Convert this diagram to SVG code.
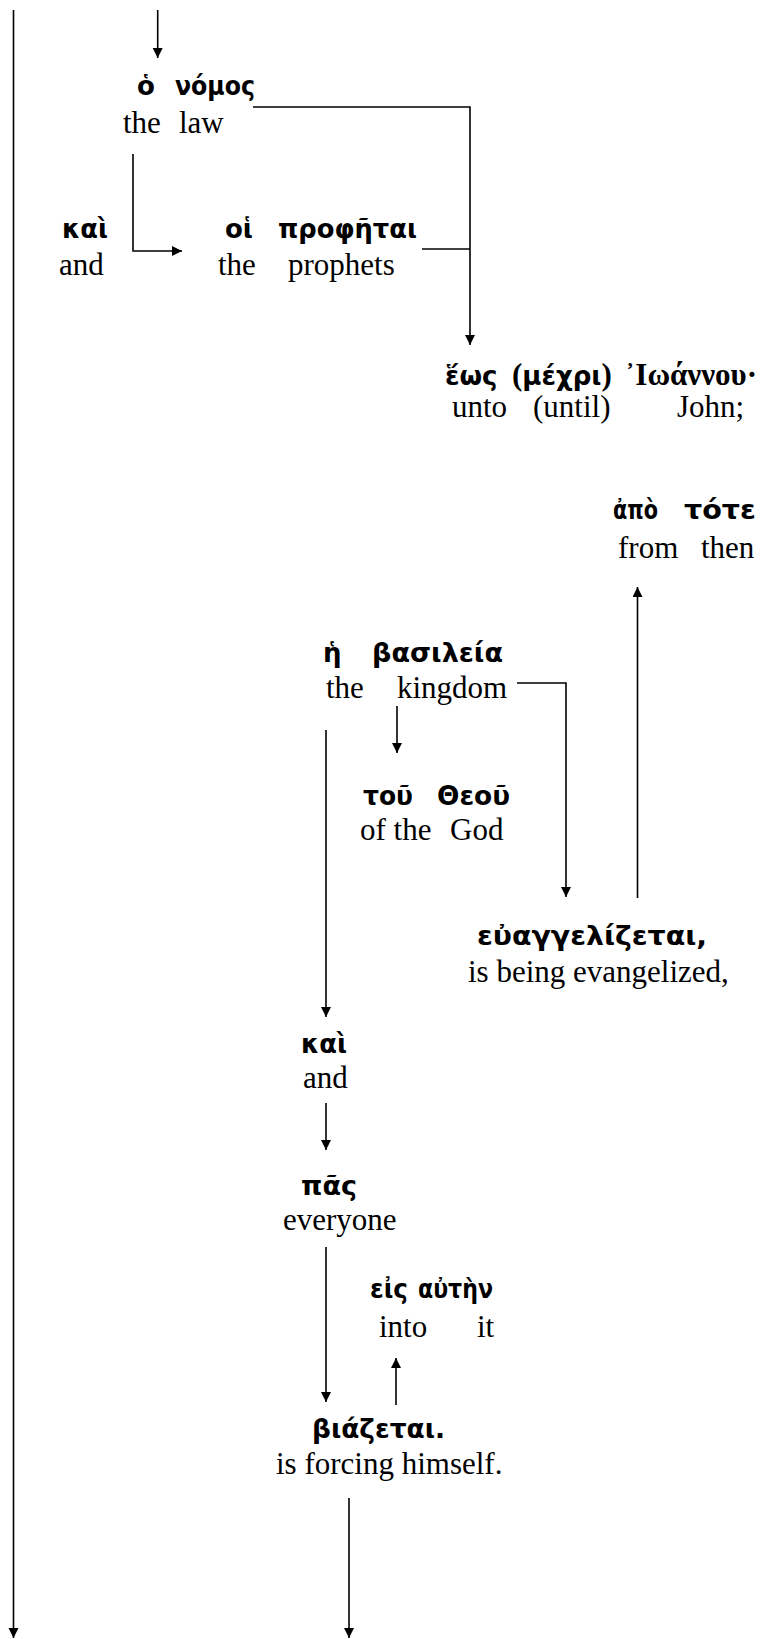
<svg xmlns="http://www.w3.org/2000/svg" width="773" height="1639" viewBox="0 0 773 1639">
<style>
.gr{font-family:"DejaVu Sans",sans-serif;font-weight:bold;font-size:26px;fill:#000}
.grs{font-family:"Liberation Serif","DejaVu Serif",serif;font-weight:bold;font-size:31px;fill:#000}
.en{font-family:"Liberation Serif",serif;font-size:31px;fill:#000}
.c{fill:none;stroke:#000;stroke-width:1.6}
</style>
<defs>
<marker id="ah" markerUnits="userSpaceOnUse" markerWidth="11" markerHeight="11" refX="10" refY="5" orient="auto">
<path d="M0,0 L10,5 L0,10 z" fill="#000"/>
</marker>
</defs>
<rect width="773" height="1639" fill="#fff"/>
<g id="connectors">
<path class="c" d="M157.7,10 V58" marker-end="url(#ah)"/>
<path class="c" d="M13.5,10 V1638" marker-end="url(#ah)"/>
<path class="c" d="M253,107 H470 V345" marker-end="url(#ah)"/>
<path class="c" d="M133,154 V251 H182" marker-end="url(#ah)"/>
<path class="c" d="M422,249 H470"/>
<path class="c" d="M637.5,898 V587" marker-end="url(#ah)"/>
<path class="c" d="M517,683 H566 V897" marker-end="url(#ah)"/>
<path class="c" d="M397,706 V753" marker-end="url(#ah)"/>
<path class="c" d="M326,730 V1017" marker-end="url(#ah)"/>
<path class="c" d="M326,1103 V1150" marker-end="url(#ah)"/>
<path class="c" d="M326,1247 V1402" marker-end="url(#ah)"/>
<path class="c" d="M396,1405 V1358" marker-end="url(#ah)"/>
<path class="c" d="M349,1498 V1638" marker-end="url(#ah)"/>
</g>
<g id="n-nomos">
<text class="gr" y="95"><tspan x="137">ὁ</tspan><tspan x="175" textLength="80" lengthAdjust="spacingAndGlyphs">νόμος</tspan></text>
<text class="en" y="133"><tspan x="123">the</tspan><tspan x="179">law</tspan></text>
</g>
<g id="n-kai1">
<text class="gr" x="62" y="238" textLength="46" lengthAdjust="spacingAndGlyphs">καὶ</text>
<text class="en" x="59" y="275">and</text>
</g>
<g id="n-prophetai">
<text class="gr" y="238"><tspan x="225">οἱ</tspan><tspan x="278" textLength="139" lengthAdjust="spacingAndGlyphs">προφῆται</tspan></text>
<text class="en" y="275"><tspan x="218">the</tspan><tspan x="288">prophets</tspan></text>
</g>
<g id="n-heos">
<text y="385"><tspan class="gr" x="445">ἕως</tspan><tspan class="grs" x="512">(</tspan><tspan class="gr">μέχρι</tspan><tspan class="grs">)</tspan><tspan class="grs" x="625">᾿Ιωάννου·</tspan></text>
<text class="en" y="417"><tspan x="452">unto</tspan><tspan x="533">(until)</tspan><tspan x="677">John;</tspan></text>
</g>
<g id="n-apo">
<text class="gr" y="519"><tspan x="613" textLength="45" lengthAdjust="spacingAndGlyphs">ἀπὸ</tspan><tspan x="684" textLength="72" lengthAdjust="spacingAndGlyphs">τότε</tspan></text>
<text class="en" y="558"><tspan x="618">from</tspan><tspan x="701">then</tspan></text>
</g>
<g id="n-basileia">
<text class="gr" y="662"><tspan x="323">ἡ</tspan><tspan x="372" textLength="131" lengthAdjust="spacingAndGlyphs">βασιλεία</tspan></text>
<text class="en" y="698"><tspan x="326">the</tspan><tspan x="397">kingdom</tspan></text>
</g>
<g id="n-theou">
<text class="gr" y="805"><tspan x="363" textLength="50" lengthAdjust="spacingAndGlyphs">τοῦ</tspan><tspan x="437" textLength="73" lengthAdjust="spacingAndGlyphs">Θεοῦ</tspan></text>
<text class="en" y="840"><tspan x="360">of the</tspan><tspan x="450">God</tspan></text>
</g>
<g id="n-euangelizetai">
<text class="gr" x="477" y="945" textLength="230" lengthAdjust="spacingAndGlyphs">εὐαγγελίζεται,</text>
<text class="en" x="468" y="982">is being evangelized,</text>
</g>
<g id="n-kai2">
<text class="gr" x="301" y="1053" textLength="46" lengthAdjust="spacingAndGlyphs">καὶ</text>
<text class="en" x="303" y="1088">and</text>
</g>
<g id="n-pas">
<text class="gr" x="301" y="1195" textLength="56" lengthAdjust="spacingAndGlyphs">πᾶς</text>
<text class="en" x="283" y="1230">everyone</text>
</g>
<g id="n-eis">
<text class="gr" y="1298"><tspan x="370" textLength="38" lengthAdjust="spacingAndGlyphs">εἰς</tspan><tspan x="418" textLength="75" lengthAdjust="spacingAndGlyphs">αὐτὴν</tspan></text>
<text class="en" y="1337"><tspan x="379">into</tspan><tspan x="477">it</tspan></text>
</g>
<g id="n-biazetai">
<text class="gr" x="312" y="1438" textLength="133" lengthAdjust="spacingAndGlyphs">βιάζεται.</text>
<text class="en" x="276" y="1474">is forcing himself.</text>
</g>
</svg>
